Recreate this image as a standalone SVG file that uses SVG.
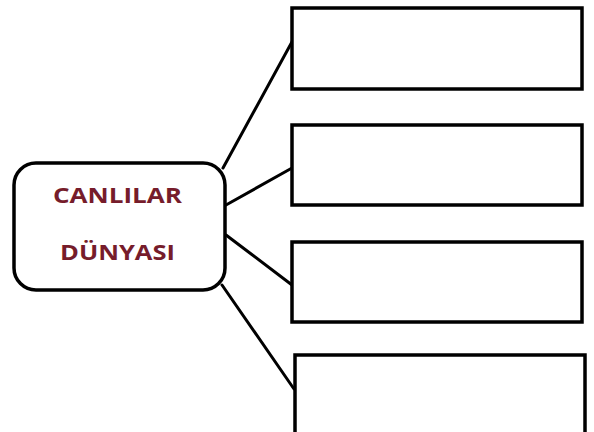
<svg xmlns="http://www.w3.org/2000/svg" width="594" height="432" viewBox="0 0 594 432">
<style>
.box{fill:#fff;stroke:#000;stroke-width:3.5}
.ln{stroke:#000;stroke-width:3;fill:none;stroke-linecap:round}
.t{font-family:"Open Sans","Liberation Sans",Arial,sans-serif;font-weight:bold;font-size:22px;fill:#761c2b;text-anchor:middle}
</style>
<rect width="594" height="432" fill="#fff"/>
<g id="connectors">
<line class="ln" x1="223" y1="168" x2="293" y2="40"/>
<line class="ln" x1="226" y1="205" x2="292" y2="168"/>
<line class="ln" x1="226" y1="235" x2="292" y2="285"/>
<line class="ln" x1="222" y1="285" x2="294" y2="389"/>
</g>
<g id="center">
<rect class="box" x="14" y="163" width="211" height="127" rx="22"/>
<text class="t" x="117.5" y="203" textLength="129" lengthAdjust="spacingAndGlyphs">CANLILAR</text>
<text class="t" x="117.5" y="260" textLength="115" lengthAdjust="spacingAndGlyphs">DÜNYASI</text>
</g>
<g id="box1"><rect class="box" x="292" y="8" width="290" height="81"/></g>
<g id="box2"><rect class="box" x="292" y="125" width="290" height="80"/></g>
<g id="box3"><rect class="box" x="292" y="242" width="290" height="80"/></g>
<g id="box4"><rect class="box" x="295" y="355" width="290" height="90"/></g>
</svg>
